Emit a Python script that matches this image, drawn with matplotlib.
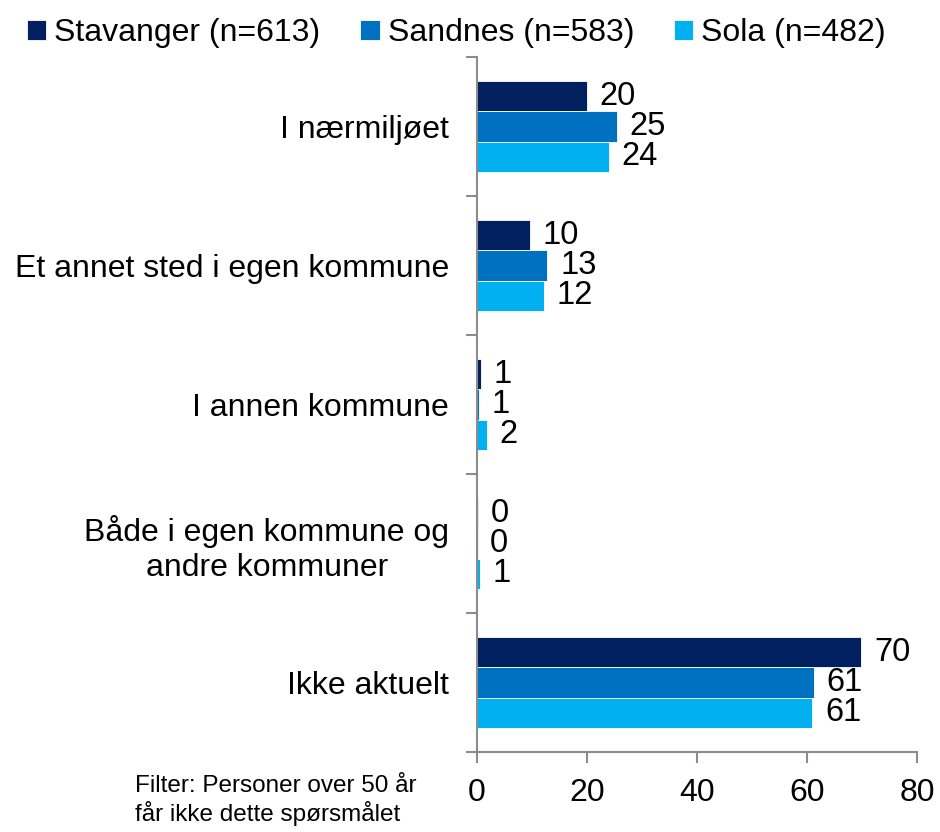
import numpy as np
import matplotlib.pyplot as plt

plt.rcParams['font.family'] = ['Liberation Sans', 'DejaVu Sans']

categories = ['I nærmiljøet', 'Et annet sted i egen kommune', 'I annen kommune',
              'Både i egen kommune og\nandre kommuner', 'Ikke aktuelt']
series = ['Stavanger (n=613)', 'Sandnes (n=583)', 'Sola (n=482)']
colors = ['#002060', '#0070C0', '#00B0F0']
stavanger = [20.0, 9.7, 0.7, 0.2, 69.9]
sandnes = [25.4, 12.8, 0.4, 0.1, 61.2]
sola = [24.0, 12.2, 1.8, 0.6, 61.0]
labels = [[20, 10, 1, 0, 70], [25, 13, 1, 0, 61], [24, 12, 2, 1, 61]]
footnote = 'Filter: Personer over 50 år\nfår ikke dette spørsmålet'

fig = plt.figure(figsize=(9.4, 8.32), dpi=100)
ax = fig.add_axes([0.5074, 0.0962, 0.4681, 0.8353])

y = np.arange(len(categories))
h = 0.217
for i, vals in enumerate([stavanger, sandnes, sola]):
    pos = y + (i - 1) * h
    ax.barh(pos, vals, height=h, color=colors[i], label=series[i],
            edgecolor='white', linewidth=0.6)
    for p, v, lab in zip(pos, vals, labels[i]):
        ax.text(v + 2.3, p, str(lab), va='center', ha='left', fontsize=23.5)

ax.set_xlim(0, 80)
ax.set_ylim(len(categories) - 0.5, -0.5)
ax.set_xticks([0, 20, 40, 60, 80])
ax.set_yticks(y)
ax.set_yticklabels(categories)
ax.set_yticks(np.arange(-0.5, len(categories), 1), minor=True)
ax.tick_params(axis='y', which='major', length=0, pad=20, labelsize=23)
ax.tick_params(axis='y', which='minor', length=8, width=1.5, color='#8c8c8c', direction='out')
ax.tick_params(axis='x', length=8, width=1.5, color='#8c8c8c', pad=11, labelsize=23)
for lab in ax.get_yticklabels():
    lab.set_multialignment('center')

for s in ['top', 'right']:
    ax.spines[s].set_visible(False)
for s in ['left', 'bottom']:
    ax.spines[s].set_color('#8c8c8c')
    ax.spines[s].set_linewidth(1.5)

fig.legend(loc='upper left', bbox_to_anchor=(0.012, 0.997), ncol=3, frameon=False,
           fontsize=23, handlelength=0.6, handleheight=0.6, handletextpad=0.25,
           columnspacing=1.25, borderaxespad=0.1)

fig.text(135 / 940, 1 - 775 / 832, footnote, ha='left', va='top', fontsize=17.5,
         linespacing=1.2)

fig.savefig('out.png', dpi=100)
